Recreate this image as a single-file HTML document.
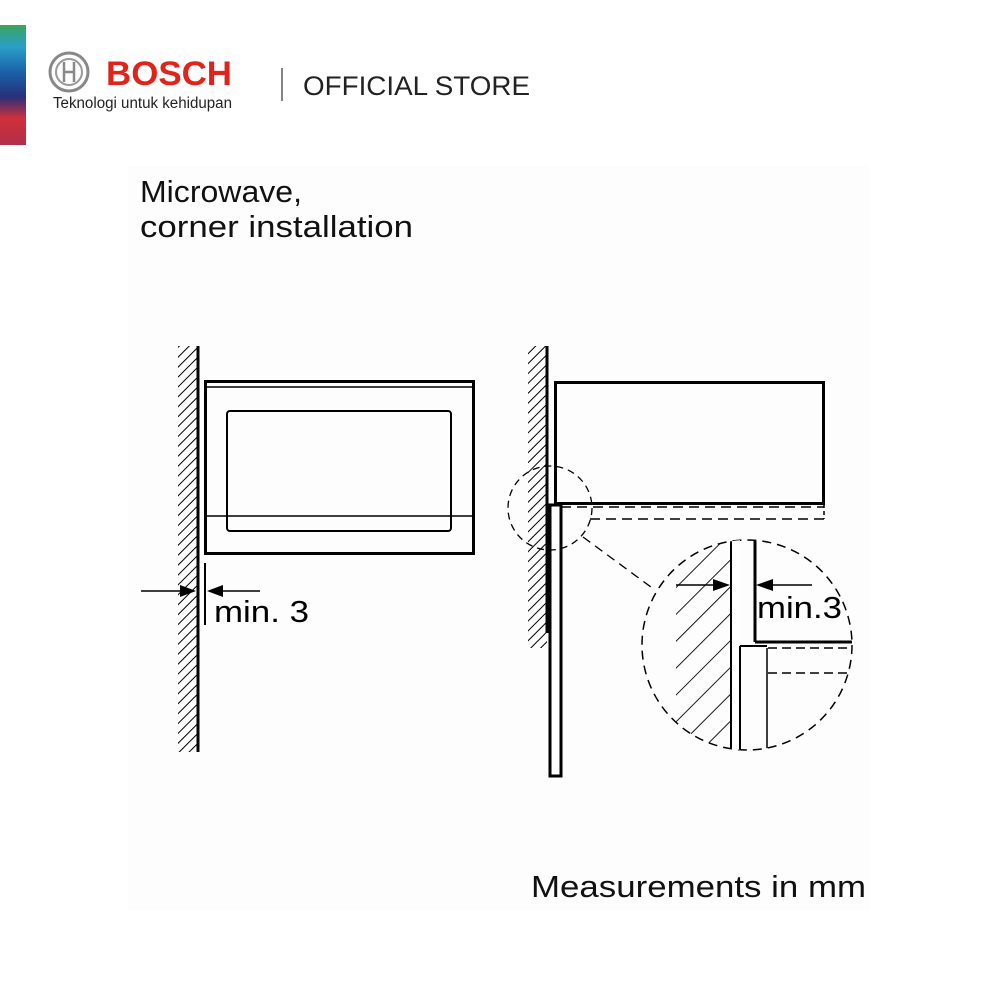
<!DOCTYPE html>
<html><head><meta charset="utf-8"><style>
html,body{margin:0;padding:0;background:#fff;}
body{width:1000px;height:1000px;position:relative;overflow:hidden;font-family:"Liberation Sans",sans-serif;}
</style></head><body>
<svg width="1000" height="1000" viewBox="0 0 1000 1000" xmlns="http://www.w3.org/2000/svg" style="position:absolute;left:0;top:0">
<defs>
<linearGradient id="strip" x1="0" y1="0" x2="0" y2="1">
<stop offset="0" stop-color="#3aa35a"/><stop offset="0.18" stop-color="#2aa0c8"/><stop offset="0.4" stop-color="#1a5fa8"/><stop offset="0.6" stop-color="#2a2f7a"/><stop offset="0.78" stop-color="#d0303a"/><stop offset="1" stop-color="#b0304a"/>
</linearGradient>
<pattern id="h" width="7" height="7" patternUnits="userSpaceOnUse" patternTransform="rotate(45)"><line x1="0" y1="0" x2="0" y2="7" stroke="#000" stroke-width="2"/></pattern>
<pattern id="h2" width="19" height="19" patternUnits="userSpaceOnUse" patternTransform="rotate(45)"><line x1="0" y1="0" x2="0" y2="19" stroke="#000" stroke-width="1.8"/></pattern>
<clipPath id="bc"><circle cx="747" cy="645" r="105"/></clipPath>
</defs>
<rect x="128" y="165" width="742" height="745" fill="#fdfdfd"/>
<!-- logo -->
<rect x="0" y="25" width="26" height="120" fill="url(#strip)"/>
<circle cx="69" cy="72" r="19" fill="none" stroke="#888" stroke-width="3"/>
<circle cx="69" cy="72" r="13" fill="none" stroke="#999" stroke-width="2"/>
<line x1="64" y1="62" x2="64" y2="82" stroke="#888" stroke-width="2.5"/><line x1="74" y1="62" x2="74" y2="82" stroke="#888" stroke-width="2.5"/><line x1="64" y1="72" x2="74" y2="72" stroke="#888" stroke-width="2.5"/>
<text x="106" y="85" font-size="34" font-weight="bold" fill="#e2231a" textLength="126" lengthAdjust="spacingAndGlyphs">BOSCH</text>
<text x="53" y="108" font-size="15.5" fill="#222" textLength="179" lengthAdjust="spacingAndGlyphs">Teknologi untuk kehidupan</text>
<line x1="282" y1="68" x2="282" y2="101" stroke="#333" stroke-width="1.2"/>
<text x="303" y="95" font-size="27" fill="#222" textLength="227" lengthAdjust="spacingAndGlyphs">OFFICIAL STORE</text>
<!-- titles -->
<text x="140" y="202" font-size="31" fill="#111" textLength="162" lengthAdjust="spacingAndGlyphs">Microwave,</text>
<text x="140" y="237" font-size="31" fill="#111" textLength="273" lengthAdjust="spacingAndGlyphs">corner installation</text>
<text x="531" y="897" font-size="31" fill="#111" textLength="335" lengthAdjust="spacingAndGlyphs">Measurements in mm</text>
<!-- left figure -->
<rect x="178" y="346" width="20" height="406" fill="url(#h)"/>
<line x1="198" y1="346" x2="198" y2="752" stroke="#000" stroke-width="3"/>
<rect x="205.5" y="381.5" width="268" height="172" fill="none" stroke="#000" stroke-width="3"/>
<line x1="205" y1="387" x2="474" y2="387" stroke="#000" stroke-width="1.5"/>
<rect x="227" y="411" width="224" height="120" rx="3" fill="none" stroke="#000" stroke-width="2"/>
<line x1="205" y1="516" x2="474" y2="516" stroke="#000" stroke-width="1.5"/>
<line x1="205" y1="563" x2="205" y2="625" stroke="#000" stroke-width="2"/>
<line x1="141" y1="591" x2="185" y2="591" stroke="#000" stroke-width="1.5"/>
<polygon points="196,591 180,585 180,597" fill="#000"/>
<line x1="220" y1="591" x2="260" y2="591" stroke="#000" stroke-width="1.5"/>
<polygon points="207,591 223,585 223,597" fill="#000"/>
<text x="214" y="622" font-size="31" fill="#000" textLength="95" lengthAdjust="spacingAndGlyphs">min. 3</text>
<!-- right figure -->
<rect x="528" y="346" width="19" height="302" fill="url(#h)"/>
<line x1="547" y1="346" x2="547" y2="633" stroke="#000" stroke-width="3"/>
<rect x="546" y="505" width="5" height="128" fill="#000"/>
<rect x="555.5" y="382.5" width="268" height="121" fill="none" stroke="#000" stroke-width="3"/>
<rect x="550" y="505" width="11" height="271" fill="none" stroke="#000" stroke-width="3"/>
<line x1="561" y1="507" x2="824" y2="507" stroke="#000" stroke-width="1.5" stroke-dasharray="10,6"/>
<line x1="590" y1="519" x2="824" y2="519" stroke="#000" stroke-width="1.5" stroke-dasharray="10,6"/>
<line x1="824" y1="504" x2="824" y2="519" stroke="#000" stroke-width="1.5" stroke-dasharray="4,3"/>
<circle cx="550" cy="508" r="42" fill="none" stroke="#000" stroke-width="1.3" stroke-dasharray="7,5"/>
<line x1="583" y1="537" x2="655" y2="590" stroke="#000" stroke-width="1.3" stroke-dasharray="9,6"/>
<circle cx="747" cy="645" r="105" fill="none" stroke="#000" stroke-width="1.5" stroke-dasharray="9,6"/>
<g clip-path="url(#bc)">
<rect x="676" y="540" width="55" height="215" fill="url(#h2)"/>
<rect x="731" y="540" width="9" height="215" fill="#fff"/>
<line x1="731" y1="541" x2="731" y2="752" stroke="#000" stroke-width="2"/>
<line x1="740" y1="646" x2="740" y2="752" stroke="#000" stroke-width="2"/>
<line x1="740" y1="646" x2="767" y2="646" stroke="#000" stroke-width="2"/>
<line x1="767" y1="648" x2="767" y2="752" stroke="#000" stroke-width="1.5"/>
<line x1="755" y1="541" x2="755" y2="642" stroke="#000" stroke-width="3"/>
<line x1="755" y1="642" x2="855" y2="642" stroke="#000" stroke-width="3"/>
<line x1="768" y1="648" x2="855" y2="648" stroke="#000" stroke-width="1.5" stroke-dasharray="9,5"/>
<line x1="768" y1="673" x2="855" y2="673" stroke="#000" stroke-width="1.5" stroke-dasharray="9,5"/>
</g>
<line x1="676" y1="585" x2="718" y2="585" stroke="#000" stroke-width="1.5"/>
<polygon points="730,585 713,579 713,591" fill="#000"/>
<line x1="770" y1="585" x2="812" y2="585" stroke="#000" stroke-width="1.5"/>
<polygon points="756,585 773,579 773,591" fill="#000"/>
<text x="757" y="618" font-size="31" fill="#000" textLength="85" lengthAdjust="spacingAndGlyphs">min.3</text>
</svg>
</body></html>
